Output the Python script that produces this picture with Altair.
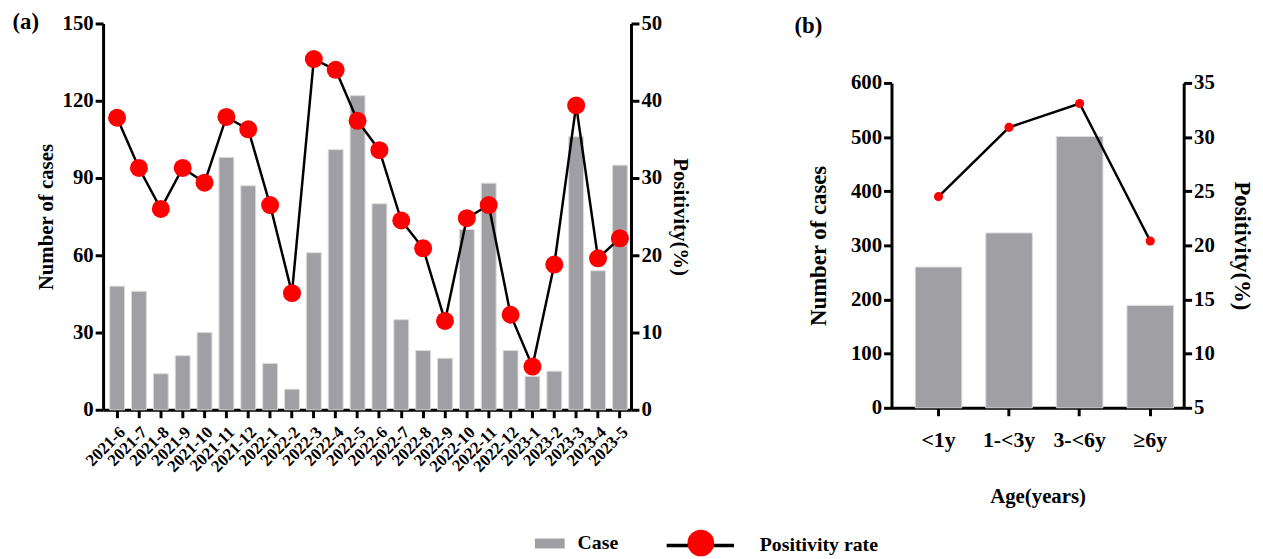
import altair as alt
import pandas as pd

# ---------------- data ----------------
months = ["2021-6", "2021-7", "2021-8", "2021-9", "2021-10", "2021-11", "2021-12",
          "2022-1", "2022-2", "2022-3", "2022-4", "2022-5", "2022-6", "2022-7",
          "2022-8", "2022-9", "2022-10", "2022-11", "2022-12", "2023-1", "2023-2",
          "2023-3", "2023-4", "2023-5"]
cases = [48, 46, 14, 21, 30, 98, 87, 18, 8, 61, 101, 122, 80, 35, 23, 20, 70, 88,
         23, 13, 15, 106, 54, 95]
positivity = [37.8, 31.3, 26.0, 31.3, 29.4, 37.9, 36.3, 26.5, 15.1, 45.4, 44.0, 37.4,
              33.6, 24.5, 20.9, 11.5, 24.8, 26.5, 12.3, 5.6, 18.8, 39.4, 19.6, 22.2]

age_groups = ["<1y", "1-<3y", "3-<6y", "≥6y"]
age_cases = [260, 323, 501, 189]
age_positivity = [24.5, 30.9, 33.1, 20.4]

left_ticks_a = [0, 30, 60, 90, 120, 150]
right_ticks_a = [0, 10, 20, 30, 40, 50]
left_ticks_b = [0, 100, 200, 300, 400, 500, 600]
right_ticks_b = [5, 10, 15, 20, 25, 30, 35]

FONT = "Liberation Serif"
GREY = "#a0a0a4"

df_a = pd.DataFrame({"month": months, "cases": cases, "pos": positivity})
df_a["k_case"] = "Case"
df_a["k_line"] = "Positivity rate"
df_a["k_dot"] = "Positivity rate"

df_b = pd.DataFrame({"age": age_groups, "cases": age_cases, "pos": age_positivity})

# ---------------- panel (a) ----------------
x_a = alt.X("month:N", sort=months, title=None,
            scale=alt.Scale(paddingInner=0.32, paddingOuter=0.235, align=0.64),
            axis=alt.Axis(labelAngle=-45, labelFontSize=17, labelPadding=6))

bars_a = alt.Chart(df_a).mark_bar(stroke="#dcdcdc", strokeWidth=1).encode(
    x=x_a,
    y=alt.Y("cases:Q", scale=alt.Scale(domain=[0, 150], nice=False),
            axis=alt.Axis(orient="left", values=left_ticks_a, title="Number of cases",
                          titlePadding=6, titleFontSize=21)),
    fill=alt.Fill("k_case:N", scale=alt.Scale(range=[GREY]),
                  legend=alt.Legend(title=None, orient="none", legendX=436, legendY=510,
                                    symbolType="M-1,-0.333H1V0.333H-1Z", symbolSize=900,
                                    symbolStrokeWidth=0, labelFontSize=20, labelOffset=13)),
)

line_a = alt.Chart(df_a).mark_line(strokeWidth=2.5, color="black").encode(
    x=x_a,
    y=alt.Y("pos:Q", scale=alt.Scale(domain=[0, 50], nice=False),
            axis=alt.Axis(orient="right", values=right_ticks_a, title="Positivity(%)",
                          titlePadding=8, titleFontSize=21)),
    stroke=alt.Stroke("k_line:N", scale=alt.Scale(range=["black"]),
                      legend=alt.Legend(title=None, orient="none", legendX=567, legendY=491,
                                        symbolType="stroke", symbolSize=4624,
                                        symbolStrokeWidth=3.5, labelFontSize=20,
                                        labelOffset=24)),
)

points_a = alt.Chart(df_a).mark_point(filled=True, opacity=1, size=330, color="red").encode(
    x=x_a,
    y=alt.Y("pos:Q"),
    shape=alt.Shape("k_dot:N", scale=alt.Scale(range=["circle"]),
                    legend=alt.Legend(title=None, orient="none", legendX=590, legendY=511,
                                      symbolSize=729, symbolFillColor="red",
                                      symbolStrokeWidth=0, labelExpr="''", labelFontSize=20)),
)

panel_a = alt.layer(bars_a, alt.layer(line_a, points_a)).resolve_scale(
    y="independent"
).properties(
    width=533, height=390,
    title=alt.TitleParams("(a)", anchor="start", frame="bounds", fontSize=23,
                          font=FONT, fontWeight="bold", dx=-23, dy=26),
)

# ---------------- panel (b) ----------------
x_b = alt.X("age:N", sort=age_groups, title="Age(years)",
            scale=alt.Scale(paddingInner=0.34, paddingOuter=0.24, align=0.7),
            axis=alt.Axis(labelAngle=0, labelFontSize=22, labelPadding=14,
                          titlePadding=36, titleFontSize=21))

bars_b = alt.Chart(df_b).mark_bar(stroke="#dcdcdc", strokeWidth=1, color=GREY).encode(
    x=x_b,
    y=alt.Y("cases:Q", scale=alt.Scale(domain=[0, 600], nice=False),
            axis=alt.Axis(orient="left", values=left_ticks_b, title="Number of cases",
                          titleFontSize=23, titlePadding=20)),
)

line_b = alt.Chart(df_b).mark_line(strokeWidth=2.5, color="black").encode(
    x=x_b,
    y=alt.Y("pos:Q", scale=alt.Scale(domain=[5, 35], nice=False),
            axis=alt.Axis(orient="right", values=right_ticks_b, title="Positivity(%)",
                          titleFontSize=23, titlePadding=15)),
)

points_b = alt.Chart(df_b).mark_point(filled=True, opacity=1, size=85, color="red").encode(
    x=x_b,
    y=alt.Y("pos:Q"),
)

panel_b = alt.layer(bars_b, alt.layer(line_b, points_b)).resolve_scale(
    y="independent"
).properties(width=295, height=328)

# empty header cell carrying the "(b)" label, so that panel (b) sits lower
header_b = alt.Chart(df_b).mark_text(text="").encode(
    x=alt.value(0), y=alt.value(0)
).properties(
    width=295, height=39,
    title=alt.TitleParams("(b)", anchor="start", frame="bounds", fontSize=23,
                          font=FONT, fontWeight="bold", dx=-98, dy=25),
)

chart = alt.hconcat(panel_a, alt.vconcat(header_b, panel_b, spacing=10), spacing=105).properties(
    padding={"left": 4, "top": 1, "right": 3, "bottom": 0}
).configure_axis(
    labelFont=FONT, titleFont=FONT, labelFontWeight="bold", titleFontWeight="bold",
    labelColor="black", titleColor="black", domainColor="black", tickColor="black",
    domainWidth=3, tickWidth=3, tickSize=8, grid=False, labelFontSize=21,
    titleFontSize=21,
).configure_view(stroke=None).configure_legend(
    labelFont=FONT, labelFontWeight="bold", labelColor="black",
).configure_title(font=FONT, fontWeight="bold", color="black")

chart.save("out.html", embed_options={"renderer": "svg", "actions": False})
